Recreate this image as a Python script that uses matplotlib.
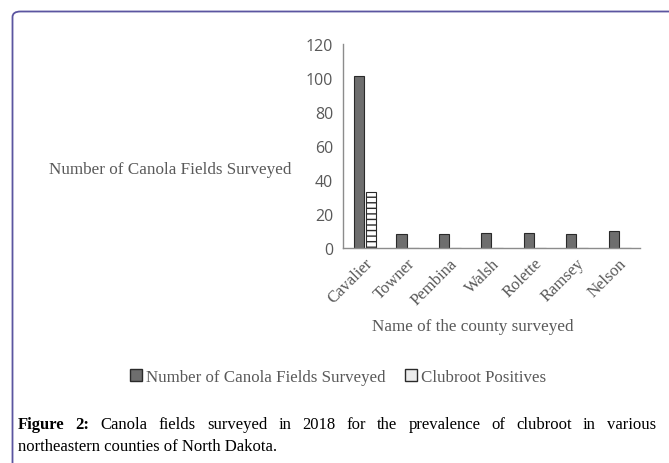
import matplotlib.pyplot as plt
import numpy as np
from matplotlib.patches import FancyBboxPatch, Patch

counties = ["Cavalier", "Towner", "Pembina", "Walsh", "Rolette", "Ramsey", "Nelson"]
fields_surveyed = [101, 8, 8, 9, 9, 8, 10]
clubroot_positive = [33, 0, 0, 0, 0, 0, 0]
y_ticks = [0, 20, 40, 60, 80, 100, 120]

serif = ["Liberation Serif", "DejaVu Serif"]
grey_txt = "#595959"
W, H = 669, 464

fig = plt.figure(figsize=(6.69, 4.64), dpi=100)

# rounded frame round the figure
frame = FancyBboxPatch((12.5 / W, -0.2), 1.2, 1 - 12.5 / H + 0.2,
                       boxstyle="round,pad=0,rounding_size=0.012",
                       transform=fig.transFigure, fill=False,
                       edgecolor="#5b55a0", linewidth=1.3)
fig.patches.append(frame)

ax = fig.add_axes([343 / W, 1 - 249 / H, (640 - 343) / W, (249 - 45) / H])

x = np.arange(len(counties))
w = 0.24
ax.bar(x - w / 2, fields_surveyed, width=w, color="#6e6e6e",
       edgecolor="#2a2a2a", linewidth=0.8)
ax.bar(x + w / 2 + 0.04, clubroot_positive, width=w, color="white",
       edgecolor="#2a2a2a", linewidth=0.8, hatch="---")

ax.set_xlim(-0.5, len(counties) - 0.5)
ax.set_ylim(0, 120)
ax.set_yticks(y_ticks)
ax.set_yticklabels([str(v) for v in y_ticks], fontsize=11.5, color=grey_txt,
                   family="Open Sans")
ax.set_xticks(x)
ax.set_xticklabels(counties, rotation=45, ha="right", rotation_mode="anchor",
                   fontsize=12, color=grey_txt, family=serif)
ax.tick_params(axis="y", length=0, pad=7)
ax.tick_params(axis="x", length=0, pad=5)
for s in ["top", "right"]:
    ax.spines[s].set_visible(False)
for s in ["left", "bottom"]:
    ax.spines[s].set_color("#8c8c8c")
    ax.spines[s].set_linewidth(1.0)

fig.text(49 / W, 1 - 170 / H, "Number of Canola Fields Surveyed",
         fontsize=12.3, color=grey_txt, family=serif, va="center", ha="left")
fig.text(473 / W, 1 - 327 / H, "Name of the county surveyed",
         fontsize=12.3, color=grey_txt, family=serif, va="center", ha="center")

handles = [Patch(facecolor="#6e6e6e", edgecolor="#2a2a2a", label="Number of Canola Fields Surveyed"),
           Patch(facecolor="#ececec", edgecolor="#2a2a2a", label="Clubroot Positives")]
fig.legend(handles=handles, loc="center", bbox_to_anchor=(338 / W, 1 - 378 / H),
           ncol=2, frameon=False, handlelength=0.7, handleheight=0.7,
           handletextpad=0.2, columnspacing=1.2,
           prop={"family": serif, "size": 12.2}, labelcolor=grey_txt)

# caption, first line justified between x=18 and x=656
cap_size = 12
words = ["Figure", "2:", "Canola", "fields", "surveyed", "in", "2018", "for", "the",
         "prevalence", "of", "clubroot", "in", "various"]
txts = []
for i, wd in enumerate(words):
    txts.append(fig.text(0, 1 - 425 / H, wd, fontsize=cap_size, family=serif,
                         weight="bold" if i < 2 else "normal", va="center"))
fig.canvas.draw()
r = fig.canvas.get_renderer()
widths = [t.get_window_extent(r).width for t in txts]
gap = (656 - 18 - sum(widths)) / (len(words) - 1)
xp = 18
for t, wd in zip(txts, widths):
    t.set_x(xp / W)
    xp += wd + gap
fig.text(18 / W, 1 - 447 / H, "northeastern counties of North Dakota.",
         fontsize=cap_size, family=serif, va="center")

fig.savefig("out.png", dpi=100)
